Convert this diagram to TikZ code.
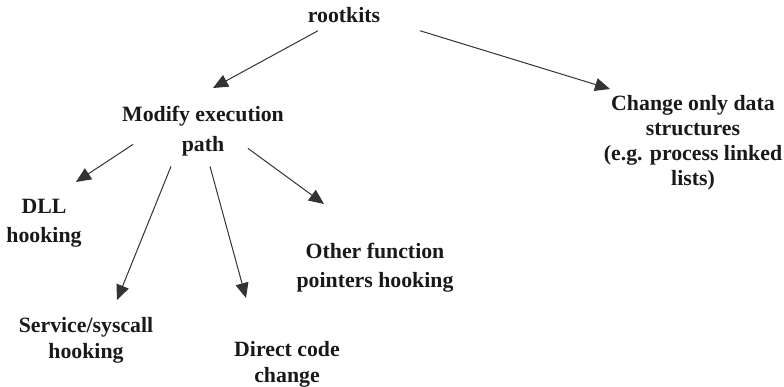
\documentclass[tikz,border=0pt]{standalone}
\usepackage{fontspec}
\setmainfont{Liberation Serif}
\usetikzlibrary{arrows.meta}
\begin{document}
\begin{tikzpicture}[x=1pt,y=-1pt,
  lbl/.style={font=\fontsize{21.8}{25}\selectfont\bfseries, inner sep=0pt, align=center, anchor=north, text=black!90},
  arr/.style={draw=black!80, line width=1pt, -{Triangle[length=15pt,width=13pt]}}]
\useasboundingbox (0,0) rectangle (784,387);
\node[lbl] (root) at (344,7) {rootkits};
\node[lbl, font=\fontsize{21.8}{30}\selectfont\bfseries] (mod) at (203,106) {Modify execution\\path};
\node[lbl] (chg) at (693,95) {Change only data\\structures\\(e.g. process linked\\lists)};
\node[lbl, font=\fontsize{21.8}{29}\selectfont\bfseries] (dll) at (44,199) {DLL\\hooking};
\node[lbl, font=\fontsize{21.8}{29}\selectfont\bfseries] (oth) at (375,243) {Other function\\pointers hooking};
\node[lbl, font=\fontsize{21.8}{26}\selectfont\bfseries] (svc) at (86,317) {Service/syscall\\hooking};
\node[lbl, font=\fontsize{21.8}{26}\selectfont\bfseries] (dir) at (287,341) {Direct code\\change};
\draw[arr] ([shift={(-26,8)}]root.south) -- ([shift={(10,-18)}]mod.north);
\draw[arr] ([shift={(76,8)}]root.south) -- ([shift={(-83,-6)}]chg.north);
\draw[arr] ([shift={(-70,-12)}]mod.south) -- ([shift={(32,-17)}]dll.north);
\draw[arr] ([shift={(-32,10)}]mod.south) -- ([shift={(31,-17)}]svc.north);
\draw[arr] ([shift={(7,10)}]mod.south) -- ([shift={(-41,-43)}]dir.north);
\draw[arr] ([shift={(45,-8)}]mod.south) -- ([shift={(-51,-39)}]oth.north);
\end{tikzpicture}
\end{document}
